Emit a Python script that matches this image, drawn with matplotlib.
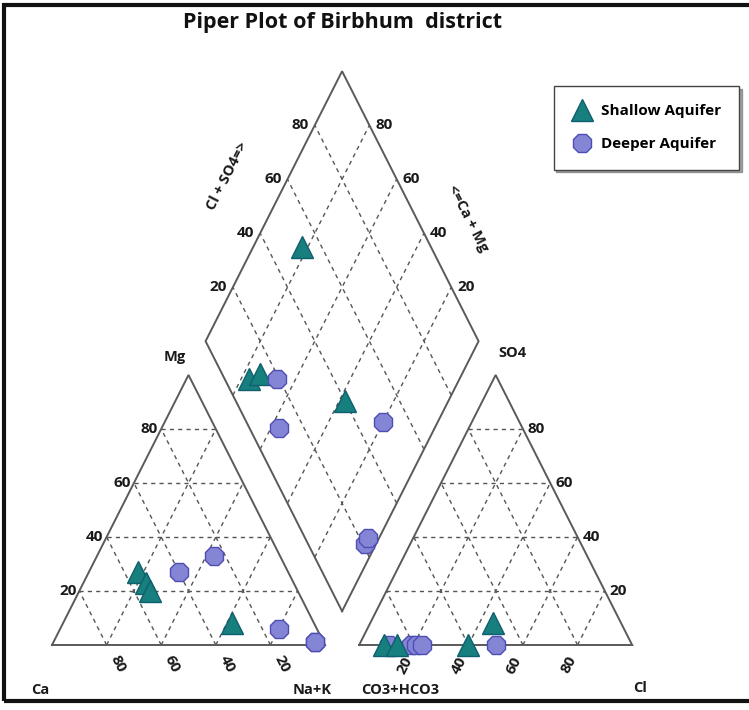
import numpy as np
import matplotlib
matplotlib.use("Agg")
import matplotlib.pyplot as plt
from matplotlib.lines import Line2D
from matplotlib.patches import Rectangle

plt.rcParams['font.family'] = ['Open Sans', 'DejaVu Sans']

# ---- sample composition (% of meq) ----
shallow_ca = [55, 54, 54, 30]
shallow_mg = [27, 23, 20, 8]
shallow_nak = [18, 23, 26, 62]
shallow_hco3 = [47, 91, 86, 60]
shallow_so4 = [8, 0, 0, 0]
shallow_cl = [45, 9, 14, 40]

deep_ca = [40, 24, 14, 3, 3]
deep_mg = [27, 33, 6, 1, 1]
deep_nak = [33, 43, 80, 96, 96]
deep_hco3 = [81, 89, 50, 79, 77]
deep_so4 = [0, 0, 0, 0, 0]
deep_cl = [19, 11, 50, 21, 23]

grid_levels = [20, 40, 60, 80]

H = np.sqrt(3) / 2
GAP = 0.125


def cat_xy(mg, nak):
    mg = np.asarray(mg) / 100.0
    nak = np.asarray(nak) / 100.0
    return nak + mg / 2, mg * H


def an_xy(so4, cl):
    so4 = np.asarray(so4) / 100.0
    cl = np.asarray(cl) / 100.0
    return 1 + GAP + cl + so4 / 2, so4 * H


def dia_xy(clso4, camg):
    a = np.asarray(clso4) / 100.0
    b = np.asarray(camg) / 100.0
    return 1 + GAP / 2 + 0.5 * (a - b), GAP * H + H * (a + b)


fig = plt.figure(figsize=(7.49, 7.10), dpi=100)
ax = fig.add_axes([0, 0, 1, 1])
ax.set_xlim(-0.1905, 2.553)
ax.set_ylim(-0.2085, 2.0687)
ax.axis('off')

edge_kw = dict(color='#5a5a5a', lw=1.4, solid_joinstyle='miter', zorder=2)
grid_kw = dict(color='#555555', lw=1.0, ls=(0, (3, 3)), zorder=1)

# outlines
x, y = cat_xy([0, 0, 100, 0], [0, 100, 0, 0])
ax.plot(x, y, **edge_kw)
x, y = an_xy([0, 0, 100, 0], [0, 100, 0, 0])
ax.plot(x, y, **edge_kw)
x, y = dia_xy([0, 100, 100, 0, 0], [0, 0, 100, 100, 0])
ax.plot(x, y, **edge_kw)

# interior grids
for v in grid_levels:
    x, y = cat_xy([v, v], [0, 100 - v]); ax.plot(x, y, **grid_kw)
    x, y = cat_xy([0, 100 - v], [100 - v, 0]); ax.plot(x, y, **grid_kw)
    x, y = cat_xy([0, 100 - v], [v, v]); ax.plot(x, y, **grid_kw)
    x, y = an_xy([v, v], [0, 100 - v]); ax.plot(x, y, **grid_kw)
    x, y = an_xy([0, 100 - v], [v, v]); ax.plot(x, y, **grid_kw)
    x, y = an_xy([0, 100 - v], [100 - v, 0]); ax.plot(x, y, **grid_kw)
    x, y = dia_xy([v, v], [0, 100]); ax.plot(x, y, **grid_kw)
    x, y = dia_xy([0, 100], [v, v]); ax.plot(x, y, **grid_kw)

tk = dict(fontsize=11, fontweight='bold', color='#1a1a1a',
          textcoords='offset pixels')

for v in grid_levels:
    # cation triangle: Mg on left edge, Ca along base
    x, y = cat_xy(v, 0)
    ax.annotate(str(v), (x, y), xytext=(-3, 0), ha='right', va='center', **tk)
    x, y = cat_xy(0, 100 - v)
    ax.annotate(str(v), (x, y), xytext=(11, -19), ha='center', va='center',
                rotation=-63, **tk)
    # anion triangle: Cl along base, SO4 on right edge
    x, y = an_xy(0, v)
    ax.annotate(str(v), (x, y), xytext=(-9, -20), ha='center', va='center',
                rotation=63, **tk)
    x, y = an_xy(v, 100 - v)
    ax.annotate(str(v), (x, y), xytext=(5, 0), ha='left', va='center', **tk)
    # diamond upper edges
    x, y = dia_xy(v, 100)
    ax.annotate(str(v), (x, y), xytext=(-6, 0), ha='right', va='center', **tk)
    x, y = dia_xy(100, v)
    ax.annotate(str(v), (x, y), xytext=(6, 0), ha='left', va='center', **tk)

lab = dict(fontsize=10.5, fontweight='bold', color='#1a1a1a',
           textcoords='offset pixels')
ax.annotate('Mg', cat_xy(100, 0), xytext=(-14, 18), ha='center', va='center', **lab)
ax.annotate('Ca', cat_xy(0, 0), xytext=(-12, -45), ha='center', va='center', **lab)
ax.annotate('Na+K', cat_xy(0, 100), xytext=(-13, -45), ha='center', va='center', **lab)
ax.annotate('CO3+HCO3', an_xy(0, 0), xytext=(41, -45), ha='center', va='center', **lab)
ax.annotate('Cl', an_xy(0, 100), xytext=(8, -43), ha='center', va='center', **lab)
ax.annotate('SO4', an_xy(100, 0), xytext=(17, 22), ha='center', va='center', **lab)

x, y = dia_xy(50, 100)
ax.annotate('Cl + SO4=>', (x, y), xytext=(-46, 30), ha='center', va='center',
            rotation=63, **lab)
x, y = dia_xy(100, 50)
ax.annotate('<=Ca + Mg', (x, y), xytext=(58, -12), ha='center', va='center',
            rotation=-63, **lab)

# samples
sh_kw = dict(ls='none', marker='^', ms=16, mfc='#17807f', mec='#0f5f6e',
             mew=1.0, zorder=4)
dp_kw = dict(ls='none', marker='8', ms=14.5, mfc='#8585d6', mec='#4d4db3',
             mew=1.0, zorder=5)

ax.plot(*cat_xy(shallow_mg, shallow_nak), **sh_kw)
ax.plot(*cat_xy(deep_mg, deep_nak), **dp_kw)

ax.plot(*an_xy(deep_so4, deep_cl), **{**dp_kw, 'zorder': 4})
ax.plot(*an_xy(shallow_so4, shallow_cl), **{**sh_kw, 'zorder': 5})

sh_a = np.add(shallow_cl, shallow_so4)
sh_b = np.add(shallow_ca, shallow_mg)
dp_a = np.add(deep_cl, deep_so4)
dp_b = np.add(deep_ca, deep_mg)
ax.plot(*dia_xy(sh_a, sh_b), **sh_kw)
ax.plot(*dia_xy(dp_a, dp_b), **dp_kw)

fig.text(0.458, 0.968, 'Piper Plot of Birbhum  district', ha='center',
         va='center', fontsize=15.5, fontweight='bold', color='#111111')

handles = [Line2D([], [], **{k: v for k, v in sh_kw.items() if k != 'zorder'}),
           Line2D([], [], **{k: v for k, v in dp_kw.items() if k != 'zorder'})]
leg = fig.legend(handles, ['Shallow Aquifer', 'Deeper Aquifer'],
                 loc='upper left', bbox_to_anchor=(0.729, 0.89),
                 prop={'weight': 'bold', 'size': 11},
                 frameon=True, fancybox=False, shadow=True,
                 borderpad=1.2, labelspacing=1.25, handletextpad=0.6,
                 handlelength=1.3)
leg.get_frame().set_edgecolor('#444444')
leg.get_frame().set_linewidth(1.0)

# outer frame
fig.patches.append(Rectangle((0.006, 0.013), 1.2, 0.98, transform=fig.transFigure,
                             fill=False, ec='#111111', lw=3))

fig.savefig('out.png', dpi=100)
